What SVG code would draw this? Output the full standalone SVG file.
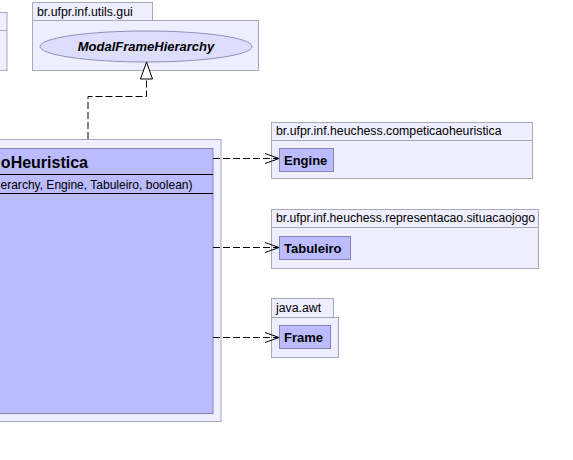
<svg xmlns="http://www.w3.org/2000/svg" width="573" height="460" viewBox="0 0 573 460">
<style>
.pkg{fill:#EEEEFF;stroke:#A8A8BC;stroke-width:1}
.cls{fill:#BBBBFF;stroke:#8484B4;stroke-width:1}
.pl{font-family:"Liberation Sans",Arial,sans-serif;font-size:12.3px;fill:#000}
.cn{font-family:"Liberation Sans",Arial,sans-serif;font-size:13px;font-weight:bold;fill:#000}
.dep{fill:none;stroke:#000;stroke-width:1;stroke-dasharray:7,3}
.ah{fill:none;stroke:#000;stroke-width:1}
</style>
<rect width="573" height="460" fill="#fff"/>
<g id="pkg-left">
<rect class="pkg" x="-10" y="12.5" width="17" height="58"/>
<line x1="-10" y1="30.5" x2="7" y2="30.5" stroke="#A8A8BC"/>
</g>
<g id="pkg-utils-gui">
<rect class="pkg" x="32.5" y="2.5" width="120" height="18"/>
<rect class="pkg" x="32.5" y="20.5" width="226" height="50"/>
<text class="pl" x="37" y="16">br.ufpr.inf.utils.gui</text>
<g id="ModalFrameHierarchy">
<ellipse cx="146" cy="46.5" rx="106" ry="15.5" fill="#DDDDFF" stroke="#9090B8"/>
<text x="146" y="51" text-anchor="middle" font-family="Liberation Sans,Arial,sans-serif" font-size="13" font-weight="bold" font-style="italic">ModalFrameHierarchy</text>
</g>
</g>
<g id="main-class">
<rect class="pkg" x="-10" y="139.5" width="231" height="282"/>
<rect class="cls" x="-10" y="148.5" width="223" height="265"/>
<text x="88" y="168" text-anchor="end" font-family="Liberation Sans,Arial,sans-serif" font-size="16" font-weight="bold">oHeuristica</text>
<line x1="-10" y1="174.5" x2="213" y2="174.5" stroke="#000"/>
<text x="0.5" y="189" font-family="Liberation Sans,Arial,sans-serif" font-size="12.2" textLength="192" lengthAdjust="spacingAndGlyphs">erarchy, Engine, Tabuleiro, boolean)</text>
<line x1="-10" y1="193.5" x2="213" y2="193.5" stroke="#000"/>
</g>
<g id="pkg-competicaoheuristica">
<rect class="pkg" x="271.5" y="122.5" width="261" height="18"/>
<rect class="pkg" x="271.5" y="140.5" width="261" height="38"/>
<text class="pl" x="276" y="135">br.ufpr.inf.heuchess.competicaoheuristica</text>
<g id="Engine">
<rect class="cls" x="279.5" y="148.5" width="54" height="23"/>
<text class="cn" x="284" y="165">Engine</text>
</g>
</g>
<g id="pkg-situacaojogo">
<rect class="pkg" x="271.5" y="209.5" width="267" height="18"/>
<rect class="pkg" x="271.5" y="227.5" width="267" height="41"/>
<text class="pl" x="276" y="222" textLength="259" lengthAdjust="spacingAndGlyphs">br.ufpr.inf.heuchess.representacao.situacaojogo</text>
<g id="Tabuleiro">
<rect class="cls" x="279.5" y="236.5" width="71" height="23"/>
<text class="cn" x="284" y="253">Tabuleiro</text>
</g>
</g>
<g id="pkg-java-awt">
<rect class="pkg" x="271.5" y="298.5" width="62" height="19"/>
<rect class="pkg" x="271.5" y="317.5" width="67" height="40"/>
<text class="pl" x="276" y="312">java.awt</text>
<g id="Frame">
<rect class="cls" x="279.5" y="325.5" width="51" height="23"/>
<text class="cn" x="284" y="342">Frame</text>
</g>
</g>
<g id="connectors">
<polyline class="dep" points="88,139 88,96.5 146.5,96.5 146.5,79"/>
<polygon points="146.5,62 140.5,79 152.5,79" fill="#fff" stroke="#000"/>
<line class="dep" x1="213" y1="158.5" x2="278" y2="158.5"/>
<polyline class="ah" points="265,153.5 279,158.5 265,163.5"/>
<line class="dep" x1="213" y1="247.5" x2="278" y2="247.5"/>
<polyline class="ah" points="265,242.5 279,247.5 265,252.5"/>
<line class="dep" x1="213" y1="337.5" x2="278" y2="337.5"/>
<polyline class="ah" points="265,332.5 279,337.5 265,342.5"/>
</g>
</svg>
